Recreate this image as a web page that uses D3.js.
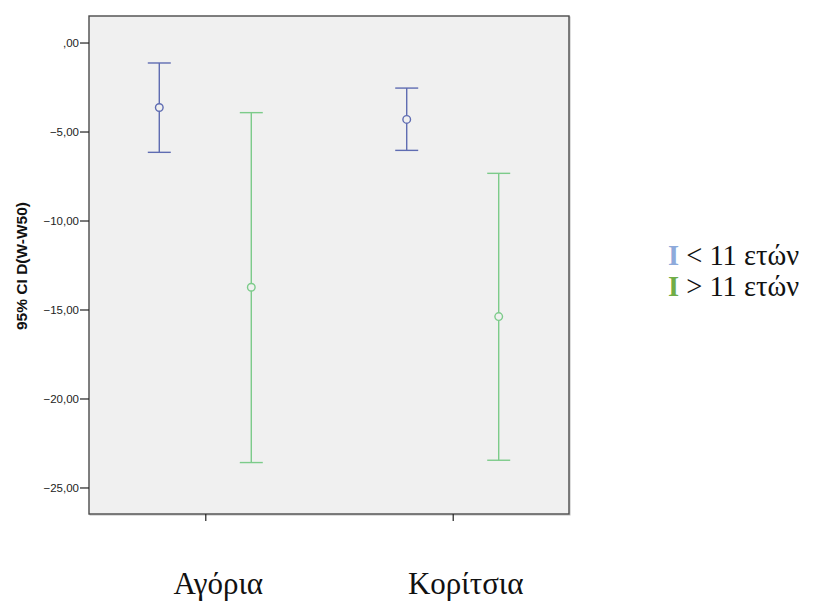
<!DOCTYPE html>
<html><head><meta charset="utf-8">
<script src="https://cdn.jsdelivr.net/npm/d3@7"></script>
<style>body{margin:0;background:#fff}</style>
</head><body>
<svg id="c" width="820" height="610"></svg>
<script>
const categories = ["Αγόρια", "Κορίτσια"];
const groups = ["< 11 ετών", "> 11 ετών"];
const means = [[-3.65, -13.75], [-4.32, -15.40]];
const lower = [[-6.17, -23.60], [-6.06, -23.47]];
const upper = [[-1.15, -3.94], [-2.56, -7.35]];
const yTicks = [0, -5, -10, -15, -20, -25];
const yLabel = "95% CI D(W-W50)";
const colors = ["#5f6cb2", "#7ccb8a"];
const legendColors = ["#8eaadb", "#70ad47"];

const svg = d3.select("#c");
const L = 89, R = 569, T = 16, B = 514;
const y = d3.scaleLinear().domain([-26.49, 1.49]).range([B, T]);
const x = d3.scalePoint().domain(categories).range([L, R]).padding(0.47);
const off = d3.scalePoint().domain(groups).range([-46, 46]);

svg.append("rect").attr("x", L + 1).attr("y", T + 1).attr("width", R - L).attr("height", B - T)
  .attr("fill", "none").attr("stroke", "#bbb").attr("stroke-width", 1);
svg.append("rect").attr("x", L).attr("y", T).attr("width", R - L).attr("height", B - T)
  .attr("fill", "#f0f0f0").attr("stroke", "#4a4a4a").attr("stroke-width", 1.4);

const fmt = v => (v === 0 ? ",00" : d3.format(".2f")(v).replace(".", ","));
const yAxis = svg.append("g").attr("transform", `translate(${L},0)`)
  .call(d3.axisLeft(y).tickValues(yTicks).tickFormat(fmt).tickSize(9).tickPadding(1));
yAxis.select(".domain").remove();
yAxis.selectAll("line").attr("stroke", "#222").attr("stroke-width", 1.2);
yAxis.selectAll("text").attr("font-family", "Arial, 'Liberation Sans', sans-serif").attr("font-size", 11.5).attr("fill", "#222");

const xAxis = svg.append("g").attr("transform", `translate(0,${B})`)
  .call(d3.axisBottom(x).tickSize(7).tickFormat(""));
xAxis.select(".domain").remove();
xAxis.selectAll("line").attr("stroke", "#222").attr("stroke-width", 1.2);

svg.append("text").attr("transform", `translate(27,${(T + B) / 2 + 1}) rotate(-90)`)
  .attr("text-anchor", "middle").attr("font-family", "Arial, 'Liberation Sans', sans-serif")
  .attr("font-weight", "bold").attr("font-size", 15.5).attr("fill", "#111").text(yLabel);

const rows = [];
categories.forEach((c, i) => groups.forEach((g, j) => rows.push({c, g, j, m: means[i][j], lo: lower[i][j], hi: upper[i][j]})));
const bars = svg.append("g").selectAll("g").data(rows).join("g")
  .attr("stroke", d => colors[d.j]).attr("fill", "none").attr("stroke-width", 1.4);
bars.append("line").attr("x1", d => x(d.c) + off(d.g)).attr("x2", d => x(d.c) + off(d.g))
  .attr("y1", d => y(d.hi)).attr("y2", d => y(d.lo));
bars.append("line").attr("x1", d => x(d.c) + off(d.g) - 11.5).attr("x2", d => x(d.c) + off(d.g) + 11.5)
  .attr("y1", d => y(d.hi)).attr("y2", d => y(d.hi));
bars.append("line").attr("x1", d => x(d.c) + off(d.g) - 11.5).attr("x2", d => x(d.c) + off(d.g) + 11.5)
  .attr("y1", d => y(d.lo)).attr("y2", d => y(d.lo));
bars.append("circle").attr("cx", d => x(d.c) + off(d.g)).attr("cy", d => y(d.m)).attr("r", 3.8)
  .attr("fill", "#f0f0f0");

svg.append("g").selectAll("text").data(categories).join("text")
  .attr("x", d => x(d) + 13).attr("y", 594).attr("text-anchor", "middle")
  .attr("font-family", "'Liberation Serif', 'Times New Roman', serif").attr("font-size", 31)
  .attr("fill", "#111").text(d => d);

const leg = svg.append("g").selectAll("text").data(groups).join("text")
  .attr("x", 668).attr("y", (d, i) => 265 + i * 31)
  .attr("font-family", "'Liberation Serif', 'Times New Roman', serif").attr("font-size", 28.5).attr("fill", "#111");
leg.append("tspan").attr("font-weight", "bold").attr("fill", (d, i) => legendColors[i]).text("I");
leg.append("tspan").text(d => " " + d);
</script>
</body></html>
